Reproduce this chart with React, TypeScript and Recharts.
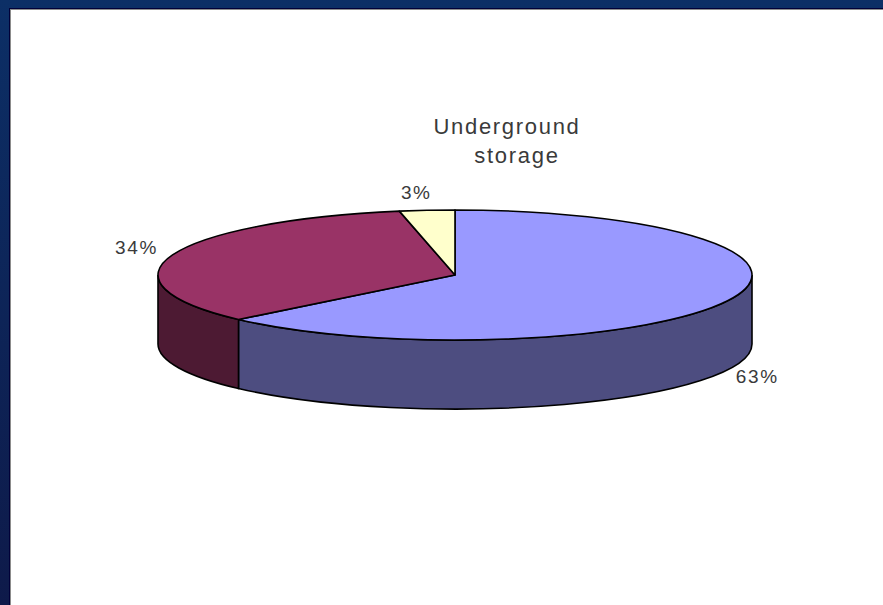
import React from "react";
import { PieChart, Pie, Cell } from "recharts";

const categories = ["Slice A", "Slice B", "Slice C"];
const shares = [63, 34, 3];
const topColors = ["#9999ff", "#993366", "#ffffcc"];
const sideColors = ["#4d4d80", "#4d1a33", "#808066"];
const titleLines = ["Underground", "storage"];

const data = categories.map((name, i) => ({ name, value: shares[i], side: sideColors[i] }));

const TILT = 0.219; // vertical squash of the disc
const DEPTH = 69;
const EDGE = "#000000";

const RAD = Math.PI / 180;

function DiscSlice(props: any) {
  const { cx, cy, outerRadius, startAngle, endAngle, fill, payload } = props;
  const rx = outerRadius;
  const ry = outerRadius * TILT;
  const px = (a: number) => cx + rx * Math.cos(a * RAD);
  const py = (a: number) => cy - ry * Math.sin(a * RAD);
  const large = Math.abs(startAngle - endAngle) > 180 ? 1 : 0;

  // only the front half of the rim (0 to -180) shows a wall
  const wallFrom = Math.min(startAngle, 0);
  const wallTo = Math.max(endAngle, -180);
  const hasWall = wallFrom > wallTo;

  return (
    <g>
      {hasWall && (
        <path
          d={`M${px(wallFrom)},${py(wallFrom)} A${rx},${ry} 0 0 1 ${px(wallTo)},${py(wallTo)} L${px(wallTo)},${py(wallTo) + DEPTH} A${rx},${ry} 0 0 0 ${px(wallFrom)},${py(wallFrom) + DEPTH} Z`}
          fill={payload?.side ?? props.side}
          stroke={EDGE}
          strokeWidth={1.6}
        />
      )}
      <path
        d={`M${cx},${cy} L${px(startAngle)},${py(startAngle)} A${rx},${ry} 0 ${large} 1 ${px(endAngle)},${py(endAngle)} Z`}
        fill={fill}
        stroke={EDGE}
        strokeWidth={1.6}
        strokeLinejoin="round"
      />
    </g>
  );
}

const labelNudge = [
  { dx: -7, dy: -7 },
  { dx: 2, dy: 4 },
  { dx: -7, dy: 6 },
];

function SliceLabel(props: any) {
  const { cx, cy, outerRadius, midAngle, index, value } = props;
  const front = Math.sin(midAngle * RAD) < 0;
  const x = cx + (outerRadius + 40) * Math.cos(midAngle * RAD) + labelNudge[index].dx;
  const y = cy - (outerRadius * TILT + 18) * Math.sin(midAngle * RAD) + (front ? 76 : -6) + labelNudge[index].dy;
  return (
    <text
      x={x}
      y={y}
      textAnchor="middle"
      dominantBaseline="central"
      fontFamily="Liberation Sans"
      fontSize={19}
      letterSpacing={1.6}
      fill="#3a3a3a"
    >
      {`${value}%`}
    </text>
  );
}

export default function App() {
  return (
    <div
      style={{
        position: "absolute",
        left: 0,
        top: 0,
        width: 883,
        height: 605,
        overflow: "hidden",
        background: "linear-gradient(180deg, #0c2f66 0%, #0e1a4a 100%)",
      }}
    >
      <div
        style={{
          position: "absolute",
          left: 9,
          top: 8,
          width: 874,
          height: 597,
          background: "#000038",
        }}
      />
      <div
        style={{
          position: "absolute",
          left: 10,
          top: 9,
          width: 873,
          height: 596,
          background: "#ffffff",
          borderLeft: "1px solid #8c8c8c",
          borderTop: "1px solid #8c8c8c",
          boxSizing: "border-box",
        }}
      />
      <div style={{ position: "absolute", left: 0, top: 0 }}>
        <PieChart width={883} height={605} margin={{ top: 0, right: 0, bottom: 0, left: 0 }}>
          <text
            x={507}
            y={134}
            textAnchor="middle"
            fontFamily="Liberation Sans"
            fontSize={22}
            letterSpacing={1.7}
            fill="#3a3a3a"
          >
            {titleLines[0]}
          </text>
          <text
            x={517}
            y={163}
            textAnchor="middle"
            fontFamily="Liberation Sans"
            fontSize={22}
            letterSpacing={1.7}
            fill="#3a3a3a"
          >
            {titleLines[1]}
          </text>
          <Pie
            data={data}
            dataKey="value"
            nameKey="name"
            cx={455}
            cy={275}
            innerRadius={0}
            outerRadius={297}
            startAngle={90}
            endAngle={-270}
            paddingAngle={0}
            shape={DiscSlice}
            label={SliceLabel}
            labelLine={false}
            isAnimationActive={false}
          >
            {data.map((d, i) => (
              <Cell key={d.name} fill={topColors[i]} />
            ))}
          </Pie>
        </PieChart>
      </div>
    </div>
  );
}
